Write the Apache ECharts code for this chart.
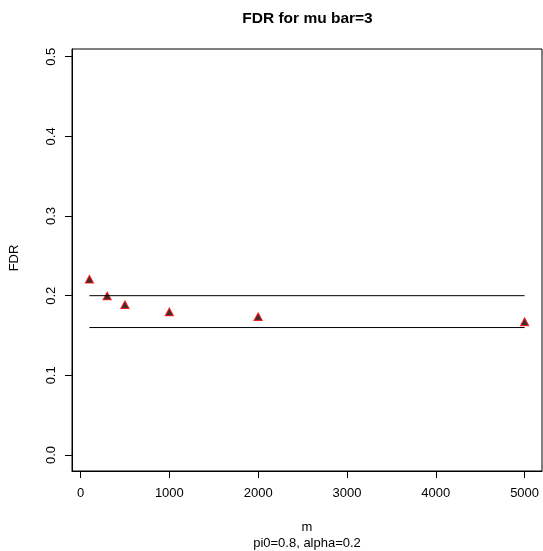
<!DOCTYPE html>
<html>
<head>
<meta charset="utf-8">
<script src="https://cdn.jsdelivr.net/npm/echarts@6/dist/echarts.min.js"></script>
<style>html,body{margin:0;padding:0;background:#fff;}#c{width:543px;height:551px;}</style>
</head>
<body>
<div id="c"></div>
<script>
const mValues = [100, 300, 500, 1000, 2000, 5000];
const fdrValues = [0.219, 0.198, 0.187, 0.178, 0.172, 0.1655];
const upperRef = [[100, 0.2], [5000, 0.2]];
const lowerRef = [[100, 0.16], [5000, 0.16]];
const xTicks = [0, 1000, 2000, 3000, 4000, 5000];
const yTicks = [0, 0.1, 0.2, 0.3, 0.4, 0.5];
const titleText = 'FDR for mu bar=3';
const xLabel = 'm';
const subLabel = 'pi0=0.8, alpha=0.2';
const yLabel = 'FDR';

const font = 'Liberation Sans, Arial, Helvetica, sans-serif';
const chart = echarts.init(document.getElementById('c'), null, {renderer: 'canvas'});
chart.setOption({
  animation: false,
  backgroundColor: '#fff',
  grid: {left: 72, right: 1, top: 49, bottom: 80, show: true, borderColor: '#000', borderWidth: 1, backgroundColor: 'transparent'},
  xAxis: {
    type: 'value', min: -96, max: 5196,
    splitLine: {show: false},
    axisLine: {show: true, onZero: false, lineStyle: {color: '#000', width: 1}},
    axisTick: {show: true, inside: false, length: 7, customValues: xTicks, lineStyle: {color: '#000'}},
    axisLabel: {show: true, margin: 16, customValues: xTicks, color: '#000', fontSize: 13, fontFamily: font,
      formatter: v => String(v)}
  },
  yAxis: {
    type: 'value', min: -0.0201, max: 0.5097,
    splitLine: {show: false},
    axisLine: {show: true, onZero: false, lineStyle: {color: '#000', width: 1}},
    axisTick: {show: true, inside: false, length: 7, customValues: yTicks, lineStyle: {color: '#000'}},
    axisLabel: {show: true, rotate: 90, margin: 14, customValues: yTicks, color: '#000', fontSize: 13, fontFamily: font,
      formatter: v => v.toFixed(1)}
  },
  graphic: [
    {type: 'text', x: 307.5, y: 18.5, style: {text: titleText, fill: '#000', font: 'bold 15.5px ' + font, textAlign: 'center', textVerticalAlign: 'middle'}},
    {type: 'text', x: 307, y: 527, style: {text: xLabel, fill: '#000', font: '13px ' + font, textAlign: 'center', textVerticalAlign: 'middle'}},
    {type: 'text', x: 307, y: 543, style: {text: subLabel, fill: '#000', font: '13px ' + font, textAlign: 'center', textVerticalAlign: 'middle'}},
    {type: 'text', x: 14, y: 258, rotation: Math.PI / 2, style: {text: yLabel, fill: '#000', font: '13px ' + font, textAlign: 'center', textVerticalAlign: 'middle'}}
  ],
  series: [
    {type: 'line', data: upperRef, showSymbol: false, symbol: 'none', lineStyle: {color: '#000', width: 1}, silent: true},
    {type: 'line', data: lowerRef, showSymbol: false, symbol: 'none', lineStyle: {color: '#000', width: 1}, silent: true},
    {type: 'scatter', data: mValues.map((m, i) => [m, fdrValues[i]]), symbol: 'triangle', symbolSize: [8, 7.5], symbolOffset: [0, -1.3],
      itemStyle: {color: '#000', borderColor: '#ff0000', borderWidth: 1.2}}
  ]
});
</script>
</body>
</html>
